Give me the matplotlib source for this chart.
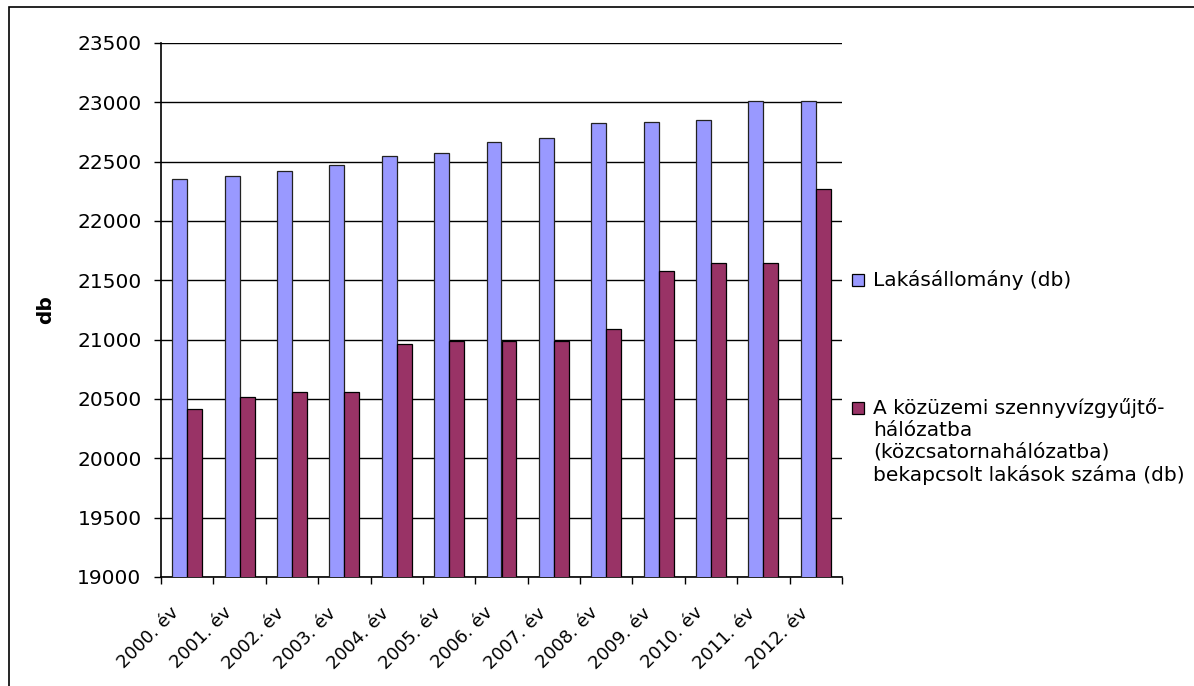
import matplotlib.pyplot as plt
import numpy as np
from matplotlib.patches import Rectangle
from matplotlib.transforms import ScaledTranslation

plt.rcParams['font.family'] = ['DejaVu Sans']

years = ['2000. év', '2001. év', '2002. év', '2003. év', '2004. év', '2005. év',
         '2006. év', '2007. év', '2008. év', '2009. év', '2010. év', '2011. év',
         '2012. év']
housing = [22350, 22383, 22419, 22472, 22550, 22575, 22665, 22698, 22827,
           22838, 22849, 23011, 23011]
connected = [20416, 20520, 20556, 20560, 20966, 20990, 20990, 20990, 21094,
             21580, 21648, 21648, 22272]
labels = ['Lakásállomány (db)',
          'A közüzemi szennyvízgyűjtő-\nhálózatba\n(közcsatornahálózatba)\nbekapcsolt lakások száma (db)']
colors = ['#9999FF', '#993366']

W, H = 1194, 686
fs = 14.5
fig = plt.figure(figsize=(W / 100, H / 100), dpi=100)
ax = fig.add_axes([161 / W, 1 - 577 / H, 681 / W, 534 / H])

x = np.arange(len(years))
bw = 1 / 3.5
ax.bar(x - bw / 2, housing, bw, color=colors[0], edgecolor='#222222', linewidth=0.9, zorder=3)
ax.bar(x + bw / 2, connected, bw, color=colors[1], edgecolor='black', linewidth=0.9, zorder=3)

ax.set_xlim(-0.5, len(years) - 0.5)
ax.set_ylim(19000, 23500)
ax.set_yticks(np.arange(19000, 23501, 500))
ax.yaxis.grid(True, color='black', linewidth=1)
ax.set_axisbelow(True)
for s in ['top', 'right']:
    ax.spines[s].set_visible(False)
for s in ['left', 'bottom']:
    ax.spines[s].set_linewidth(1.2)

ax.tick_params(axis='y', labelsize=fs, length=5, width=1, pad=9)
ax.set_xticks(x)
ax.set_xticklabels(years, rotation=45, ha='right', va='center',
                   rotation_mode='anchor', fontsize=13)
ax.tick_params(axis='x', which='major', length=0, pad=24)
# Excel puts the end of the rotated label a bit left of the category centre
shift = ScaledTranslation(-11 / 100, 0, fig.dpi_scale_trans)
for lbl in ax.get_xticklabels():
    lbl.set_transform(lbl.get_transform() + shift)
ax.set_xticks(np.arange(-0.5, len(years)), minor=True)
ax.tick_params(axis='x', which='minor', length=5, width=1)

ax.set_ylabel('db', fontsize=fs, fontweight='bold', labelpad=16)

# legend drawn by hand to match the layout
sq = 12
for i, (lab, col) in enumerate(zip(labels, colors)):
    ytop = [274, 402][i]
    fig.patches.append(Rectangle((852 / W, 1 - (ytop + sq) / H), sq / W, sq / H,
                                 transform=fig.transFigure, facecolor=col,
                                 edgecolor='black', linewidth=0.9))
    fig.text(873 / W, 1 - (ytop - 4) / H, lab, fontsize=fs, va='top', ha='left',
             multialignment='left', linespacing=1.2)

# outer frame
fig.patches.append(Rectangle((9 / W, -0.01), 1.02, 1 - 7 / H + 0.01,
                             transform=fig.transFigure, fill=False,
                             edgecolor='black', linewidth=1.2))

fig.savefig('out.png', dpi=100)
